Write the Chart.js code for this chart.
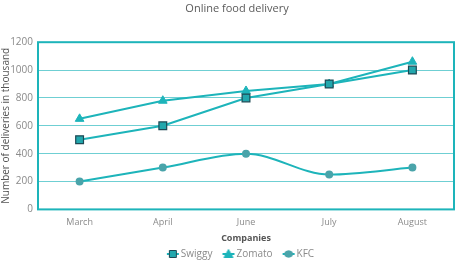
<!DOCTYPE html>
<html>
<head>
<meta charset="utf-8">
<script src="https://cdn.jsdelivr.net/npm/chart.js@4"></script>
<style>
    html, body { margin: 0; padding: 0; background: #ffffff; }
    #box { width: 474px; height: 270px; }
</style>
</head>
<body>
<div id="box"><canvas id="grafico"></canvas></div>
<script>
const meses = ['March', 'April', 'June', 'July', 'August'];
const swiggy = [500, 600, 800, 900, 1000];
const zomato = [650, 780, 850, 900, 1060];
const kfc = [200, 300, 400, 250, 300];
const ticksY = [0, 200, 400, 600, 800, 1000, 1200];

const corLinha = '#1db4ba';
const corTexto = '#8a8a8a';

// moldura em volta da area do grafico
const moldura = {
    id: 'moldura',
    afterDraw(chart) {
        const a = chart.chartArea;
        const ctx = chart.ctx;
        ctx.save();
        ctx.strokeStyle = corLinha;
        ctx.lineWidth = 2;
        ctx.strokeRect(a.left, a.top, a.right - a.left, a.bottom - a.top);
        ctx.restore();
    }
};

// icone da legenda: pedaco de linha + marcador (estilo Excel)
function criarIcone(tipo, preenchimento, contorno) {
    const c = document.createElement('canvas');
    c.width = 24;
    c.height = 12;
    const g = c.getContext('2d');
    g.strokeStyle = corLinha;
    g.lineWidth = 2;
    g.beginPath();
    g.moveTo(11, 6);
    g.lineTo(23, 6);
    g.stroke();
    g.fillStyle = preenchimento;
    g.strokeStyle = contorno;
    g.lineWidth = 1;
    g.beginPath();
    if (tipo === 'rect') {
        g.rect(13.5, 2.5, 7, 7);
    } else if (tipo === 'triangle') {
        g.moveTo(17, 1.5);
        g.lineTo(21.5, 9.5);
        g.lineTo(12.5, 9.5);
        g.closePath();
    } else {
        g.ellipse(17, 6, 4, 3.2, 0, 0, Math.PI * 2);
    }
    g.fill();
    g.stroke();
    return c;
}

const icones = [
    criarIcone('rect', '#22a7ad', '#1d4a55'),
    criarIcone('triangle', corLinha, corLinha),
    criarIcone('circle', '#4aa4aa', '#4aa4aa')
];

const canva = document.getElementById('grafico').getContext('2d');
const grafico = new Chart(canva, {
    type: 'line',
    data: {
        labels: meses,
        datasets: [{
            label: 'Swiggy',
            data: swiggy,
            borderColor: corLinha,
            borderWidth: 2,
            pointStyle: 'rect',
            pointRadius: 5.5,
            pointBackgroundColor: '#22a7ad',
            pointBorderColor: '#1d4a55',
            pointBorderWidth: 1.2,
            tension: 0
        }, {
            label: 'Zomato',
            data: zomato,
            borderColor: corLinha,
            borderWidth: 2,
            pointStyle: 'triangle',
            pointRadius: 5,
            pointBackgroundColor: corLinha,
            pointBorderColor: corLinha,
            pointBorderWidth: 1,
            tension: 0
        }, {
            label: 'KFC',
            data: kfc,
            borderColor: corLinha,
            borderWidth: 2,
            pointStyle: 'circle',
            pointRadius: 3,
            pointBackgroundColor: '#4aa4aa',
            pointBorderColor: '#4aa4aa',
            cubicInterpolationMode: 'monotone'
        }]
    },
    options: {
        responsive: true,
        maintainAspectRatio: false,
        animation: false,
        layout: { padding: { left: 0, right: 0, top: 0, bottom: 1 } },
        plugins: {
            title: {
                display: true,
                text: 'Online food delivery',
                color: '#5a5a5a',
                font: { family: 'Open Sans', size: 11, weight: 'normal' },
                padding: { top: 2, bottom: 27 }
            },
            legend: {
                position: 'bottom',
                labels: {
                    usePointStyle: true,
                    pointStyleWidth: 16,
                    boxHeight: 10,
                    padding: 3,
                    color: corTexto,
                    font: { family: 'Open Sans', size: 10 },
                    generateLabels: (chart) => {
                        const itens = Chart.defaults.plugins.legend.labels.generateLabels(chart);
                        itens.forEach((item, i) => {
                            item.pointStyle = icones[i];
                        });
                        return itens;
                    }
                }
            },
            tooltip: { enabled: false }
        },
        scales: {
            x: {
                offset: true,
                grid: { display: false },
                border: { display: false },
                ticks: { color: corTexto, font: { family: 'Open Sans', size: 9 }, padding: 0 },
                title: {
                    display: true,
                    text: 'Companies',
                    color: '#555555',
                    font: { family: 'Open Sans', size: 9, weight: 'bold' },
                    padding: { top: 5, bottom: 2 }
                }
            },
            y: {
                min: 0,
                max: 1200,
                afterBuildTicks: (scale) => { scale.ticks = ticksY.map(v => ({ value: v })); },
                afterFit: (scale) => { scale.width = 38; },
                grid: { color: '#6fcfd3', lineWidth: 1, drawTicks: false },
                border: { display: false },
                ticks: {
                    color: corTexto,
                    font: { family: 'Open Sans', size: 10 },
                    padding: 5,
                    callback: (v) => String(v)
                },
                title: {
                    display: true,
                    text: 'Number of deliveries in thousand',
                    color: '#555555',
                    font: { family: 'Open Sans', size: 10 },
                    padding: 0
                }
            },
            // eixo vazio so para reservar a margem da direita
            direita: {
                position: 'right',
                display: true,
                grid: { display: false },
                border: { display: false },
                ticks: { display: false },
                afterFit: (scale) => { scale.width = 20; }
            }
        }
    },
    plugins: [moldura]
});
</script>
</body>
</html>
